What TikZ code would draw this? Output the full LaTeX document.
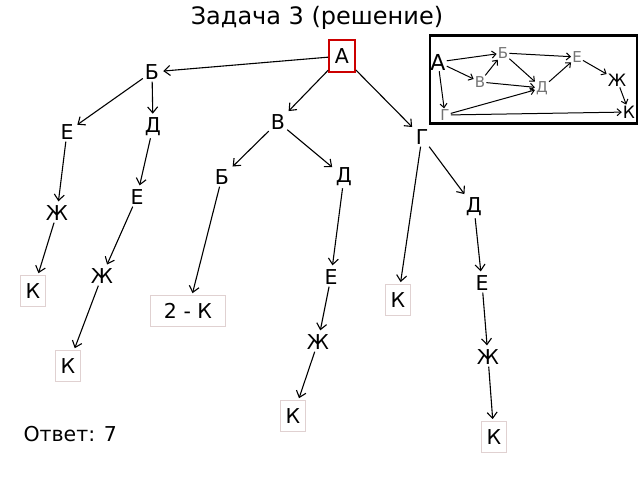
\documentclass[tikz,border=0pt]{standalone}
\usepackage{fontspec}
\setmainfont{DejaVu Sans}
\usetikzlibrary{arrows.meta}

\begin{document}
\begin{tikzpicture}[x=1pt, y=-1pt,
        font=\fontsize{20.5}{24}\selectfont,
        v/.style={inner sep=2pt},
        leaf/.style={draw=red!20!gray!30, line width=0.8pt,
                     minimum width=25pt, minimum height=31pt, inner sep=3pt},
        arr/.style={-{Straight Barb[length=6pt,width=10pt]}, line width=1.1pt,
                    shorten >=2pt},
        mv/.style={inner sep=1pt, text=black!55, font=\fontsize{15}{17}\selectfont},
        marr/.style={-{Straight Barb[length=4pt,width=7pt]}, line width=1pt}
      ]
        \useasboundingbox (0,0) rectangle (640,480);

        \node[font=\fontsize{24}{28}\selectfont] (title) at (317,18)
          {Задача 3 (решение)};

        % tree
        \node[draw=red!80!black, line width=1.8pt, minimum width=26pt,
              minimum height=32pt, inner sep=2pt] (a) at (342,56) {А};
        \node[v] (b1) at (152,72) {Б};
        \node[v] (e1) at (67,132) {Е};
        \node[v] (d1) at (153,127) {Д};
        \node[v] (v1) at (278,122) {В};
        \node[v] (g1) at (422,137) {Г};
        \node[v] (zh1) at (57,213) {Ж};
        \node[v] (e2) at (137,197) {Е};
        \node[v] (b2) at (222,177) {Б};
        \node[v] (d2) at (344,177) {Д};
        \node[v] (d3) at (474,207) {Д};
        \node[leaf] (k1) at (33,291) {К};
        \node[v] (zh2) at (102,276) {Ж};
        \node[v] (e3) at (331,277) {Е};
        \node[leaf, minimum width=75pt] (k2) at (188,311) {2 - К};
        \node[leaf] (k3) at (398,300) {К};
        \node[v] (e4) at (482,283) {Е};
        \node[v] (zh3) at (318,342) {Ж};
        \node[v] (zh4) at (488,357) {Ж};
        \node[leaf] (k4) at (68,366) {К};
        \node[leaf] (k5) at (293,416) {К};
        \node[leaf] (k6) at (494,437) {К};

        \draw[arr] (a) -- (b1);
        \draw[arr] (a) -- (v1);
        \draw[arr] (a) -- (g1);
        \draw[arr] (b1) -- (e1);
        \draw[arr] (b1) -- (d1);
        \draw[arr] (e1) -- (zh1);
        \draw[arr] (zh1) -- (k1);
        \draw[arr] (d1) -- (e2);
        \draw[arr] (e2) -- (zh2);
        \draw[arr] (zh2) -- (k4);
        \draw[arr] (v1) -- (b2);
        \draw[arr] (v1) -- (d2);
        \draw[arr] (b2) -- (k2);
        \draw[arr] (d2) -- (e3);
        \draw[arr] (e3) -- (zh3);
        \draw[arr] (zh3) -- (k5);
        \draw[arr] (g1) -- (k3);
        \draw[arr] (g1) -- (d3);
        \draw[arr] (d3) -- (e4);
        \draw[arr] (e4) -- (zh4);
        \draw[arr] (zh4) -- (k6);

        \node[anchor=west] (ans) at (20,434) {Ответ: 7};

        % small graph
        \node[draw, line width=2.2pt, minimum width=207pt, minimum height=88pt,
              inner sep=0pt] (frame) at (533.5,79.5) {};
        \node[inner sep=1pt, font=\fontsize{22}{24}\selectfont] (ma) at (438,62) {А};
        \node[mv] (mb) at (503,53) {Б};
        \node[mv] (mv) at (480,82) {В};
        \node[mv] (mg) at (445,115) {Г};
        \node[mv] (md) at (542,88) {Д};
        \node[mv] (me) at (577,57) {Е};
        \node[inner sep=1pt, font=\fontsize{17}{19}\selectfont] (mzh) at (617,80) {Ж};
        \node[inner sep=1pt, font=\fontsize{17}{19}\selectfont] (mk) at (629,112) {К};

        \draw[marr] (ma) -- (mb);
        \draw[marr] (ma) -- (mv);
        \draw[marr] (mv) -- (mb);
        \draw[marr] (ma) -- (mg);
        \draw[marr] (mb) -- (md);
        \draw[marr] (mb) -- (me);
        \draw[marr] (mv) -- (md);
        \draw[marr] (md) -- (me);
        \draw[marr] (me) -- (mzh);
        \draw[marr] (mzh) -- (mk);
        \draw[marr] (mg) -- (md);
        \draw[marr] (mg) -- (mk);
      \end{tikzpicture}
\end{document}
